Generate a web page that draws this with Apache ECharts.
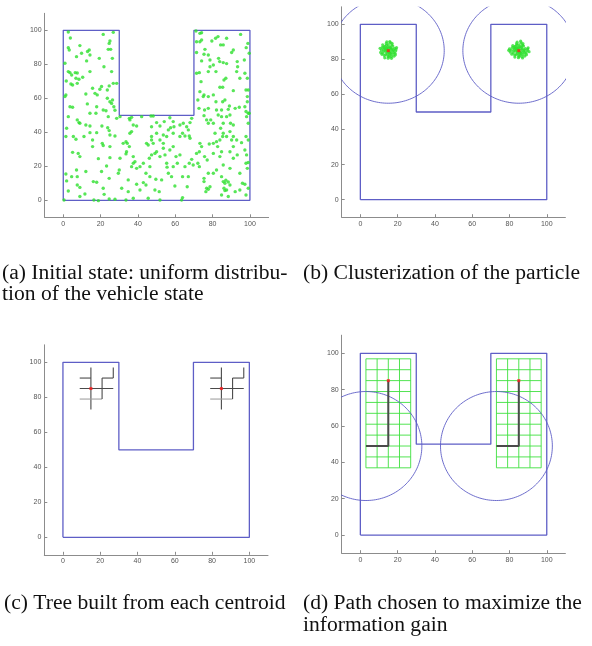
<!DOCTYPE html>
<html><head><meta charset="utf-8">
<script src="https://cdn.jsdelivr.net/npm/echarts@6/dist/echarts.min.js"></script>
<style>html,body{margin:0;padding:0;background:#fff}#c{width:592px;height:646px}</style>
</head><body><div id="c"></div>
<script>
// ---- data ----
const tickValues = [0, 20, 40, 60, 80, 100];
const uShape = [[0,0],[100,0],[100,100],[70,100],[70,50],[30,50],[30,100],[0,100],[0,0]];
const uniformParticles = [
[2.7,99],[3.8,95.5],[0.9,80.6],[2.7,89.8],[3.2,88.4],[8.9,91],[7.1,84.5],[9.8,86.5],[12.5,82],[13,87.5],[13.9,88.4],[14.3,85.5],[19.3,83.5],[21.4,97.6],[25,93.7],[25.4,88.8],[24.1,88.8],[24.6,92.3],[26.8,98.8],[26.3,83.5],[25.9,75.7],[21.8,78.6],[1.6,70.2],[1.4,62],[0.9,61],[2.7,75.7],[3.6,75.1],[4.5,73.7],[4.1,68.4],[5,67.8],[6.4,75.1],[6.8,71.8],[7.5,74.9],[8.4,71.2],[7.5,68.8],[10.4,72.4],[14.3,75.7],[15.7,65.9],[17,62.9],[18.2,62],[19.6,65.3],[20.5,66.9],[23.6,64.9],[24.6,67.3],[26.8,68.8],[28.6,68.8],[23.6,60],[25,58],[25.9,57],[26.4,59],[27.1,55],[27.7,53],[3.6,55],[5,54.7],[2.7,49.2],[7.5,47.3],[8.4,45.7],[8.9,45.3],[12.1,62.5],[12.9,56.7],[14.3,51.2],[17.9,55],[17.5,51.2],[21.4,53.1],[22.9,52.7],[24.1,49.2],[28.6,48.2],[1.8,42.4],[1.4,37.5],[5.4,37.5],[6.8,35.9],[5,28.2],[8,27.6],[8.9,25.7],[11.1,37.5],[12.1,44.3],[14.3,43.7],[14.3,39.8],[15.7,35.5],[17.9,39.8],[15.7,31.6],[20.7,43.7],[20.9,33.5],[21.4,32.2],[23.8,42.7],[24.6,41],[25,38.4],[27.7,37.8],[25,31.6],[25,25.1],[23.2,20.2],[18.8,24.5],[1.4,15.5],[1.8,11.4],[4.5,13.9],[7.1,17.8],[7.5,13.9],[7.5,9],[8.9,7.6],[8.9,2.2],[11.6,3.7],[12.1,16.9],[16.1,11],[17.9,10.6],[16.4,0.2],[18.8,-0.2],[24.6,12.9],[24.6,0.8],[27.7,0.6],[2.7,5.5],[0.4,0.2],[21.4,7.1],[21.9,3.5],[20.5,16.9],[29.5,15.9],[30,17.8],
[30.4,49.2],[35.4,48.2],[35.7,47.3],[36.6,48.8],[37.5,44.3],[39.3,43.7],[42,49.2],[47,49.6],[48.2,49.6],[50,45.7],[47.3,43.3],[51.8,43.7],[54.1,46.3],[57.1,48.6],[58.9,46.3],[57.5,42.7],[56.3,41.4],[59.3,43.3],[62.5,44.3],[64.3,45.3],[66.1,43.3],[67.9,45.7],[68.8,48.2],[63.9,39.4],[65.2,37.8],[67,41.4],[67.9,36.5],[67.5,37.8],[62.5,37.5],[58.9,39.4],[55.4,37.5],[53.6,38.4],[50,39.4],[47.3,37.5],[47.3,35.5],[48.2,33.5],[45.5,32.5],[44.6,33.5],[51.8,35.5],[53.6,33.5],[36.6,40.4],[35.7,39.4],[33.6,34.5],[34.3,33.5],[35.4,31.6],[32.1,33.5],[33.9,28.6],[33.6,27.3],[30.4,24.7],[37.5,25.7],[38.4,22.7],[37.5,21.8],[36.6,19.8],[39.3,18.8],[41.1,19.8],[42.9,21.8],[46.1,24.7],[47.3,26.7],[49.1,27.6],[50,28.6],[51.8,25.7],[54.5,26.7],[53.6,30.6],[57.1,29.6],[58.9,31.6],[60.4,25.7],[61.1,21.8],[55.4,21.8],[58.9,19.8],[62.5,26.7],[65.2,19.8],[67.5,21.8],[68.8,24.1],[63.9,13.9],[67,13.9],[58,13.9],[56.3,15.9],[52.7,12],[49.6,12.4],[46.4,13.9],[42.9,10.4],[39.3,9.4],[34.8,12],[31.3,7.1],[34.8,5.1],[33.6,0.2],[37.5,1.2],[41.1,6.1],[44.3,9],[45.5,1.2],[49.1,6.1],[51.4,5.1],[51.8,0.2],[59.8,8.4],[63.4,0.2],[63.9,1.6],[66.4,8],[46.4,19.8],[44.3,15.9],[55.6,19.5],
[71.1,99.6],[73.2,98.2],[74.1,98.6],[71.4,93.3],[73.2,93.3],[74.1,94.3],[75.9,88.8],[71.4,86.9],[75.4,85.9],[77.7,85.5],[74.1,82],[78.6,82.5],[81.6,95.3],[82.9,96.3],[79.6,93.7],[84.3,91.4],[85.7,91.4],[87.5,95.3],[91.1,88.4],[90.2,86.9],[95,97.6],[98.9,92.3],[98,89.8],[99.6,86.5],[97,82.5],[93.2,81.6],[93.4,78.6],[83.2,83.5],[83.8,81.6],[80.4,79.6],[78.6,78.6],[77.7,75.7],[81.8,75.7],[85.7,81],[87.5,80.4],[87.1,71.8],[86.1,70.8],[83.9,66.5],[85.4,66.5],[71.4,74.7],[72.9,75.1],[73.8,69.8],[73.2,63.9],[75.4,62],[75,61],[77.7,61],[80.4,62],[72.1,59],[72.7,54.1],[75.7,53.1],[75.4,49.8],[77.7,54.1],[81.8,58],[85.4,58],[86.6,59],[82.1,53.1],[84.8,53.1],[88.4,53.5],[89,55.5],[91.1,64.5],[92.9,75.7],[94.6,71.8],[97.3,74.7],[98.6,71.8],[97.9,64.9],[98.6,61],[99.1,64.9],[98.6,58],[97.3,55],[92.1,54.1],[94.3,54.7],[97.9,52.2],[99.1,51.2],[99.6,51.2],[98.2,49.2],[99.1,45.3],[76.8,47.3],[77.7,45.3],[79,47.3],[80.4,45.3],[83,50.2],[84.8,49.2],[87.5,49.2],[89.3,50.2],[89.6,45.3],[91.1,44.3],[85.7,45.3],[84.3,42.4],[81.3,39.4],[85.7,39.4],[85.4,37.5],[83.9,35.5],[82.1,34.5],[80.4,33.5],[82.7,31.6],[87.5,37.5],[89.3,40.4],[91.1,37.5],[90.2,35.5],[92.9,35.5],[95.5,33.9],[97.9,37.5],[99.1,35.5],[97.3,29.6],[91.1,31.6],[89.3,28.6],[91.1,24.7],[93.2,26.7],[98.2,26.7],[97.9,21.8],[99.1,22.2],[98.6,18.8],[94.6,15.9],[89.3,18.8],[85.7,20.8],[83.9,25.7],[84.8,28.6],[80.4,27.6],[78.2,33.1],[73.2,33.5],[74.1,31.6],[72.9,28.6],[71.4,27.6],[75.7,25.7],[77.1,23.7],[72.1,21.8],[69.6,20.8],[72.9,19.8],[77.7,15.9],[75.4,12.9],[75.4,11],[76.8,7.1],[77.7,6.5],[76.4,5.1],[80.4,15.9],[82.1,17.8],[84.8,13.9],[85.7,11],[86.6,10],[87.1,11.8],[88.4,10.8],[86.1,7.1],[86.6,5.7],[87.5,6.1],[84.8,3.1],[88.4,2.2],[89.3,9],[92.1,5.1],[94.6,6.1],[96,10],[97.3,9.4],[97.9,3.1],[99.1,7.1],[78.6,8]
];
const clusterLeft = [[15.2,85.3],[14.1,86.2],[16.3,84.1],[13.5,84.6],[16.8,86.0],[15.9,87.2],[14.4,83.2],[12.6,85.8],[17.5,84.8],[15.0,88.4],[13.2,87.5],[17.1,82.9],[14.8,81.9],[12.1,83.6],[18.3,86.3],[16.0,89.6],[11.8,86.9],[13.9,89.1],[18.6,83.5],[15.6,82.4],[12.9,82.2],[16.9,88.3],[14.6,86.9],[15.5,84.0],[13.8,85.5],[16.4,85.7],[15.1,86.6],[14.3,84.3],[16.1,83.3],[17.8,85.4],[12.4,84.8],[19.0,84.9],[11.3,85.4],[14.9,80.7],[16.6,81.6],[13.1,80.9],[18.0,81.8],[17.4,87.6],[14.0,88.0],[12.0,88.3],[19.4,86.8],[10.9,84.0],[15.8,90.2],[13.6,82.8],[17.0,89.2],[15.4,83.6],[14.7,85.0],[16.2,86.8],[13.3,86.2],[17.9,83.9],[12.7,87.0],[15.3,81.5],[18.8,82.6],[11.6,82.9],[16.7,80.6],[14.2,90.0],[19.2,85.9],[10.6,86.3]];
const clusterRight = [[85.2,85.4],[84.0,86.1],[86.4,84.2],[83.3,84.7],[86.9,86.1],[85.8,87.3],[84.3,83.3],[82.5,85.9],[87.6,84.7],[85.1,88.3],[83.1,87.4],[87.3,83.0],[84.9,82.1],[82.0,83.8],[88.5,86.2],[86.2,89.4],[81.5,86.8],[83.8,88.9],[88.9,83.6],[85.7,82.5],[82.8,82.5],[87.0,88.1],[84.5,86.8],[85.6,84.0],[83.7,85.4],[86.5,85.6],[85.0,86.7],[84.2,84.2],[86.2,83.3],[88.0,85.3],[82.2,84.9],[89.5,85.0],[80.9,85.3],[84.8,81.0],[86.8,81.7],[82.9,81.3],[88.2,81.9],[87.5,87.7],[83.9,88.0],[81.8,87.9],[90.0,86.6],[80.4,84.2],[86.0,90.4],[83.5,82.8],[87.2,89.0],[85.4,83.6],[84.6,85.0],[86.3,86.9],[83.2,86.3],[88.1,84.0],[82.6,87.0],[85.3,81.6],[89.1,82.7],[81.3,83.0],[87.0,80.8],[84.1,89.8],[89.8,85.9],[80.0,86.0],[90.5,84.4],[79.6,85.2]];
const centroids = [[15,85],[85,85]];
const sensorCirclesB = [[15,85,30],[85,85,30]];
const sensorCirclesD = [[3,49,30],[73,49,30]];
// tree segments relative to centroid: [dx1,dy1,dx2,dy2,shade(0 dark,1 light)]
const treeSegments = [[0,-12,0,12,0],[-6,0,12,0,0],[-6,6,0,6,0],[-6,-6,6,-6,1],[6,-6,6,6,0],[6,6,12,6,0],[12,6,12,12,0]];
const gridColsLeft = [3,9,15,21,27];
const gridColsRight = [73,79,85,91,97];
const gridRows = [37,43,49,55,61,67,73,79,85,91,97];
const pathLeft = [[15,85],[15,49],[3,49]];
const pathRight = [[85,85],[85,49],[73,49]];
const captions = [
  ['(a) Initial state: uniform distribu-', 'tion of the vehicle state'],
  ['(b) Clusterization of the particle'],
  ['(c) Tree built from each centroid'],
  ['(d) Path chosen to maximize the', 'information gain']
];

// ---- styles ----
const BLUE = '#5e5ec6';
const GREEN = '#2ee02e';
const grids = [
  {left:44.6, top:13.3, width:224, height:204},
  {left:341.7, top:6.8, width:223.7, height:210.4},
  {left:44.3, top:344.8, width:223.7, height:210},
  {left:341.7, top:335.2, width:223.7, height:218}
];
function axis(i){
  return {gridIndex:i, type:'value', min:-10, max:110,
    axisLine:{show:true, onZero:false, lineStyle:{color:'#8c8c8c', width:1}},
    axisTick:{show:true, inside:true, length:3, customValues:tickValues, lineStyle:{color:'#8c8c8c'}},
    axisLabel:{customValues:tickValues, fontSize:7, color:'#555', margin:3, fontFamily:'Liberation Sans'},
    splitLine:{show:false}};
}
function uLine(i){
  return {type:'line', xAxisIndex:i, yAxisIndex:i, data:uShape, symbol:'none', z:3,
    lineStyle:{color:BLUE, width:1.3}, silent:true};
}
function circles(i, data){
  return {type:'custom', xAxisIndex:i, yAxisIndex:i, data:data, clip:true, z:2, silent:true,
    renderItem:function(params, api){
      const cx = api.value(0), cy = api.value(1), r = api.value(2);
      const pts = [];
      for (let k=0;k<=180;k++){ const a=k/180*2*Math.PI; pts.push(api.coord([cx+r*Math.cos(a), cy+r*Math.sin(a)])); }
      return {type:'polyline', shape:{points:pts}, style:{stroke:BLUE, fill:null, lineWidth:0.9}};
    }};
}
function segSeries(i, data, colorFn, width, z){
  return {type:'custom', xAxisIndex:i, yAxisIndex:i, data:data, z:z, silent:true,
    renderItem:function(params, api){
      const p1 = api.coord([api.value(0), api.value(1)]);
      const p2 = api.coord([api.value(2), api.value(3)]);
      return {type:'line', shape:{x1:p1[0],y1:p1[1],x2:p2[0],y2:p2[1]}, style:{stroke:colorFn(api.value(4)), lineWidth:width}};
    }};
}
// build tree segment data from centroids
const treeData = [];
centroids.forEach(c => treeSegments.forEach(s => treeData.push([c[0]+s[0], c[1]+s[1], c[0]+s[2], c[1]+s[3], s[4]])));
// build grid lines
const gridData = [];
[gridColsLeft, gridColsRight].forEach(cols => {
  cols.forEach(x => gridData.push([x, gridRows[0], x, gridRows[gridRows.length-1], 0]));
  gridRows.forEach(y => gridData.push([cols[0], y, cols[cols.length-1], y, 0]));
});

const capPos = [[2,273],[303,273],[4,603.5],[303,603.5]];
const graphics = [];
captions.forEach((lines, i) => lines.forEach((t, j) => graphics.push({
  type:'text', x:capPos[i][0], y:capPos[i][1] + j*21.5, silent:true,
  style:{text:t, font:'21.6px "Liberation Serif"', fill:'#111', textAlign:'left', textVerticalAlign:'middle'}
})));

const option = {
  animation:false,
  grid: grids,
  xAxis: [0,1,2,3].map(axis),
  yAxis: [0,1,2,3].map(axis),
  graphic: graphics,
  series: [
    uLine(0),
    {type:'scatter', xAxisIndex:0, yAxisIndex:0, data:uniformParticles, symbol:'circle', symbolSize:3.4, itemStyle:{color:GREEN}, z:4, silent:true},
    circles(1, sensorCirclesB),
    uLine(1),
    {type:'scatter', xAxisIndex:1, yAxisIndex:1, data:clusterLeft.concat(clusterRight), symbol:'circle', symbolSize:3.2, itemStyle:{color:GREEN}, z:4, silent:true},
    {type:'scatter', xAxisIndex:1, yAxisIndex:1, data:centroids, symbol:'rect', symbolSize:3, itemStyle:{color:'#ff1a1a'}, z:5, silent:true},
    uLine(2),
    segSeries(2, treeData, v => v ? '#a0a0a0' : '#4a4a4a', 1.1, 4),
    {type:'scatter', xAxisIndex:2, yAxisIndex:2, data:centroids, symbol:'rect', symbolSize:3, itemStyle:{color:'#ff1a1a'}, z:5, silent:true},
    segSeries(3, gridData, v => '#3ee03e', 0.9, 1),
    circles(3, sensorCirclesD),
    uLine(3),
    {type:'line', xAxisIndex:3, yAxisIndex:3, data:pathLeft, symbol:'none', lineStyle:{color:'#4a4a4a', width:2}, z:4, silent:true},
    {type:'line', xAxisIndex:3, yAxisIndex:3, data:pathRight, symbol:'none', lineStyle:{color:'#4a4a4a', width:2}, z:4, silent:true},
    {type:'scatter', xAxisIndex:3, yAxisIndex:3, data:centroids, symbol:'rect', symbolSize:3, itemStyle:{color:'#ff1a1a'}, z:5, silent:true}
  ]
};
const chart = echarts.init(document.getElementById('c'), null, {renderer:'canvas'});
chart.setOption(option);
</script>
</body></html>
